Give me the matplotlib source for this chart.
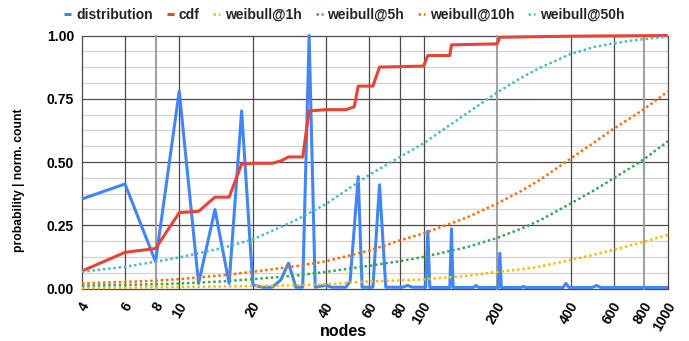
import matplotlib
matplotlib.use("Agg")
import matplotlib.pyplot as plt
import matplotlib.transforms as mtransforms
import numpy as np

plt.rcParams['font.family'] = ['Liberation Sans', 'DejaVu Sans']
plt.rcParams['font.weight'] = 'bold'

# ---- data -------------------------------------------------------------
dist_nodes = [4, 6, 8, 10, 12, 14, 16, 18, 20, 22, 24, 26, 28, 30, 32, 34, 36,
              40, 42, 48, 50, 54, 56, 62, 66, 70, 82, 86, 90, 102, 104, 106,
              128, 130, 132, 160, 164, 168, 202, 205, 208, 250, 256, 262,
              372, 382, 394, 490, 510, 530, 1000]
dist_vals = [0.354, 0.413, 0.106, 0.78, 0.02, 0.312, 0.02, 0.702, 0.014, 0.005,
             0.005, 0.033, 0.10, 0.005, 0.005, 1.0, 0.005, 0.013, 0.005, 0.005,
             0.027, 0.442, 0.005, 0.005, 0.41, 0.005, 0.005, 0.012, 0.005,
             0.005, 0.227, 0.004, 0.004, 0.236, 0.004, 0.004, 0.012, 0.004,
             0.004, 0.139, 0.004, 0.004, 0.008, 0.004, 0.004, 0.02, 0.004,
             0.004, 0.012, 0.004, 0.004]

cdf_nodes = [4, 6, 8, 10, 12, 14, 16, 18, 20, 24, 26, 28, 32, 34, 40, 48, 52,
             54, 62, 66, 80, 100, 104, 128, 130, 200, 205, 380, 1000]
cdf_vals = [0.069, 0.143, 0.158, 0.30, 0.305, 0.361, 0.361, 0.492, 0.495, 0.495,
            0.504, 0.52, 0.52, 0.702, 0.707, 0.707, 0.718, 0.80, 0.80, 0.875,
            0.877, 0.879, 0.921, 0.921, 0.963, 0.967, 0.993, 0.997, 1.0]

weibull_nodes = [4, 6, 8, 10, 15, 20, 30, 40, 60, 80, 100, 150, 200, 250, 300,
                 400, 500, 600, 700, 800, 1000]
weibull_1h = [0.001, 0.003, 0.005, 0.006, 0.008, 0.01, 0.013, 0.017, 0.028,
              0.032, 0.036, 0.05, 0.066, 0.076, 0.087, 0.113, 0.134, 0.153,
              0.17, 0.185, 0.212]
weibull_5h = [0.011, 0.014, 0.017, 0.02, 0.028, 0.037, 0.051, 0.066, 0.09,
              0.108, 0.125, 0.163, 0.20, 0.236, 0.27, 0.336, 0.389, 0.436,
              0.476, 0.512, 0.582]
weibull_10h = [0.02, 0.026, 0.031, 0.037, 0.052, 0.066, 0.088, 0.108, 0.15,
               0.19, 0.218, 0.28, 0.336, 0.385, 0.43, 0.514, 0.578, 0.632,
               0.673, 0.71, 0.779]
weibull_50h = [0.066, 0.086, 0.106, 0.123, 0.16, 0.194, 0.27, 0.335, 0.45,
               0.52, 0.574, 0.692, 0.775, 0.832, 0.873, 0.927, 0.955, 0.969,
               0.979, 0.986, 0.996]

x_ticks = [4, 6, 8, 10, 20, 40, 60, 80, 100, 200, 400, 600, 800, 1000]
x_tick_labels = ['4', '6', '8', '10', '20', '40', '60', '80', '100', '200',
                 '400', '600', '800', '1000']
y_ticks = [0.0, 0.25, 0.5, 0.75, 1.0]
y_tick_labels = ['0.00', '0.25', '0.50', '0.75', '1.00']

series_names = ['distribution', 'cdf', 'weibull@1h', 'weibull@5h',
                'weibull@10h', 'weibull@50h']
colors = ['#4285F4', '#EA4335', '#FBBC04', '#34A853', '#FF6D01', '#46BDC6']

# ---- figure -------------------------------------------------------------
W, H = 689, 341
fig = plt.figure(figsize=(W / 100, H / 100), dpi=100)
ax = fig.add_axes([82 / W, 1 - 288.5 / H, (668 - 82) / W, (288.5 - 35.5) / H])
ax.set_xscale('log')
ax.set_xlim(4, 1000)
ax.set_ylim(0, 1)
for s in ax.spines.values():
    s.set_visible(False)

# grid
for v in np.arange(0, 1.0001, 0.0625):
    if abs(v / 0.25 - round(v / 0.25)) < 1e-6:
        continue
    ax.axhline(v, color='#d3d3d3', lw=0.9, zorder=0.5)
for v in y_ticks:
    ax.axhline(v, color='#4a4a4a', lw=0.9, zorder=0.6, clip_on=False)
light_v = [8, 200, 800]
for xv in x_ticks:
    if xv in light_v:
        ax.axvline(xv, color='#a0a0a0', lw=1.5, zorder=0.6, clip_on=False)
    else:
        ax.axvline(xv, color='#4a4a4a', lw=0.9, zorder=0.6, clip_on=False)

# series
handles = []
h, = ax.plot(dist_nodes, dist_vals, color=colors[0], lw=2.2,
             solid_joinstyle='round', solid_capstyle='butt', zorder=3,
             clip_on=False)
handles.append(h)
h, = ax.plot(cdf_nodes, cdf_vals, color=colors[1], lw=2.2,
             solid_joinstyle='round', solid_capstyle='butt', zorder=3.1,
             clip_on=False)
handles.append(h)
for i, vals in enumerate([weibull_1h, weibull_5h, weibull_10h, weibull_50h]):
    h, = ax.plot(weibull_nodes, vals, color=colors[2 + i], lw=1.8,
                 linestyle=(0, (1, 1.1)), dash_capstyle='butt',
                 zorder=3.2 + 0.1 * i, clip_on=False)
    handles.append(h)

# ticks
ax.set_xticks(x_ticks)
ax.set_xticklabels(x_tick_labels)
ax.xaxis.set_minor_locator(matplotlib.ticker.NullLocator())
ax.set_yticks(y_ticks)
ax.set_yticklabels(y_tick_labels)
ax.tick_params(axis='both', length=0, labelsize=10)
ax.tick_params(axis='y', pad=5.8)
ax.tick_params(axis='x', pad=10.5)
offset = mtransforms.ScaledTranslation(4 / 100, 0, fig.dpi_scale_trans)
for lbl in ax.get_xticklabels():
    lbl.set_rotation(60)
    lbl.set_ha('right')
    lbl.set_va('center')
    lbl.set_rotation_mode('anchor')
    lbl.set_fontweight('bold')
    lbl.set_transform(lbl.get_transform() + offset)
for lbl in ax.get_yticklabels():
    lbl.set_fontweight('bold')

# axis titles
fig.text(343 / W, 1 - 332 / H, 'nodes', ha='center', va='center',
         fontsize=11.5, fontweight='bold')
fig.text(18.7 / W, 1 - 180 / H, 'probability | norm. count', ha='center',
         va='center', rotation=90, fontsize=8.7, fontweight='bold')

# legend
leg = fig.legend(handles, series_names, loc='center',
                 bbox_to_anchor=(0.5, 1 - 15 / H), ncol=6, frameon=False,
                 fontsize=10, handlelength=0.5, handletextpad=0.35,
                 columnspacing=1.0, borderaxespad=0)
for t in leg.get_texts():
    t.set_fontweight('bold')
    t.set_color('#222222')

fig.savefig('out.png', dpi=100)
